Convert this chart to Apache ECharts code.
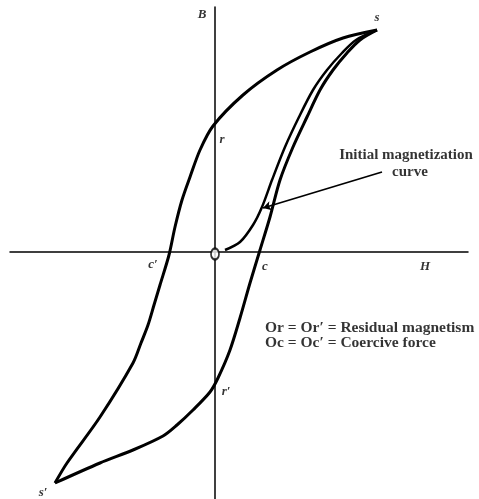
<!DOCTYPE html>
<html>
<head>
<meta charset="utf-8">
<script src="https://cdn.jsdelivr.net/npm/echarts@6/dist/echarts.min.js"></script>
<style>
  html, body { margin: 0; padding: 0; background: #fff; }
  #Grf { width: 479px; height: 499px; }
</style>
</head>
<body>
<div id="Grf"></div>
<script>
// hysteresis loop, H on x, B on y (arbitrary units)
const upperBranch = [
  [162, 222], [128, 214], [95, 200], [62, 182], [28, 157], [-2, 126],
  [-15, 102], [-25, 75], [-33, 52], [-40, 25], [-46, -3], [-55, -33],
  [-61, -53], [-67, -73], [-74, -91], [-82, -111], [-115, -165], [-148, -211], [-160, -231]
];
const lowerBranch = [
  [-160, -231], [-115, -211], [-82, -198], [-52, -184], [-38, -173], [-22, -158],
  [-5, -140], [3, -126], [15, -98], [25, -66], [35, -31], [45, 2],
  [55, 35], [65, 72], [78, 105], [92, 135], [105, 162], [118, 182],
  [132, 199], [145, 212], [162, 222]
];
const initialCurve = [
  [10, 2], [25, 10], [38, 27], [47, 45], [57, 72], [70, 105], [84, 135],
  [98, 162], [112, 182], [127, 199], [141, 212], [162, 222]
];
const pointNames = ['B', 's', 'r', 'c′', 'c', 'H', 'r′', 's′'];
const pointCoords = [
  [-13, 237], [162, 234], [7, 112], [-62, -13], [50, -15], [210, -15], [11, -140], [-172, -241]
];
const calloutText = ['Initial magnetization', 'curve'];
const calloutCoords = [[191, 97], [195, 80]];
const arrowFrom = [167, 80];
const arrowTo = [48, 44];
const noteText = ['Or = Or′ = Residual magnetism', 'Oc = Oc′ = Coercive force'];
const noteCoords = [[50, -76], [50, -91]];

const serif = '"Liberation Serif", "DejaVu Serif", serif';

const curve = (data, w) => ({
  type: 'line',
  data: data,
  smooth: 0.3,
  symbol: 'none',
  lineStyle: { color: '#000', width: w },
  silent: true
});

const textSeries = (names, coords, style) => ({
  type: 'scatter',
  symbolSize: 0,
  silent: true,
  z: 6,
  data: names.map((n, i) => ({ name: n, value: coords[i] })),
  label: Object.assign({
    show: true,
    position: 'inside',
    formatter: (p) => p.name,
    color: '#000',
    fontFamily: serif
  }, style)
});

const getOption = () => {
  return {
    animation: false,
    grid: { left: 10, right: 11, top: 7, bottom: 0 },
    xAxis: {
      type: 'value', min: -205, max: 253,
      axisLine: { onZero: true, lineStyle: { color: '#000', width: 1.5 } },
      axisTick: { show: false }, axisLabel: { show: false }, splitLine: { show: false }
    },
    yAxis: {
      type: 'value', min: -247, max: 245,
      axisLine: { onZero: true, lineStyle: { color: '#000', width: 1.5 } },
      axisTick: { show: false }, axisLabel: { show: false }, splitLine: { show: false }
    },
    series: [
      curve(upperBranch, 3),
      curve(lowerBranch, 3),
      curve(initialCurve, 2.5),
      {
        type: 'scatter',
        data: [[0, -2]],
        symbol: 'circle',
        symbolSize: [8, 11],
        itemStyle: { color: '#fff', borderColor: '#000', borderWidth: 2 },
        silent: true,
        z: 5
      },
      {
        type: 'line',
        data: [],
        markLine: {
          silent: true,
          symbol: ['none', 'arrow'],
          symbolSize: [7, 8],
          label: { show: false },
          lineStyle: { color: '#000', width: 1.8, type: 'solid' },
          data: [[{ coord: arrowFrom }, { coord: arrowTo }]]
        }
      },
      textSeries(pointNames, pointCoords, { fontSize: 13, fontStyle: 'italic', fontWeight: 'bold' }),
      textSeries(calloutText, calloutCoords, { fontSize: 15, fontWeight: 'bold' }),
      textSeries(noteText, noteCoords, { fontSize: 15.5, fontWeight: 'bold', align: 'left' })
    ]
  };
};

const grafica = echarts.init(document.querySelector('#Grf'));
grafica.setOption(getOption());
</script>
</body>
</html>
